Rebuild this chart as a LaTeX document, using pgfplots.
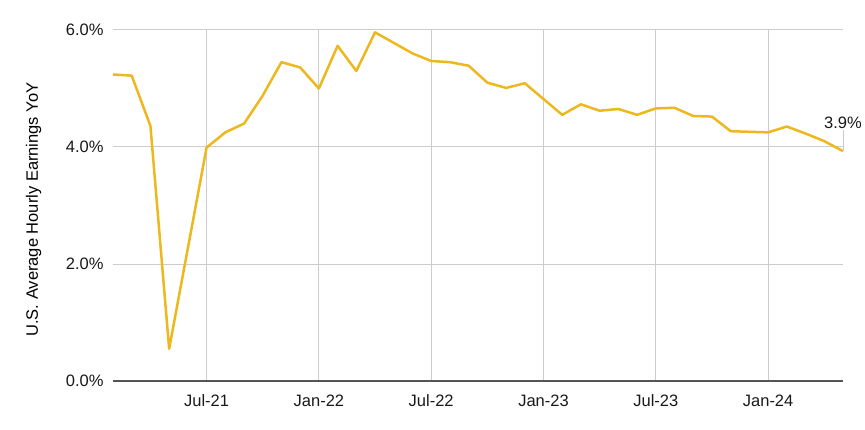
\documentclass[border=0pt]{standalone}
\usepackage{pgfplots}
\pgfplotsset{compat=1.18}
\usepackage{fontspec}
\setmainfont{Liberation Sans}
\definecolor{gold}{RGB}{236,184,30}
\definecolor{gridc}{RGB}{204,204,204}
\definecolor{axc}{RGB}{85,85,85}
\begin{document}
\begin{tikzpicture}
\useasboundingbox (-113bp,-49bp) rectangle (752bp,381bp);
\begin{axis}[
  at={(0,0)}, anchor=south west,
  scale only axis, width=730bp, height=351bp,
  xmin=1, xmax=40, ymin=0, ymax=6,
  axis x line*=bottom, axis y line*=left,
  x axis line style={axc, line width=1.6bp, -},
  y axis line style={draw=none},
  xtick={6,12,18,24,30,36},
  xticklabels={Jul-21,Jan-22,Jul-22,Jan-23,Jul-23,Jan-24},
  ytick={0,2,4,6},
  yticklabels={0.0\%,2.0\%,4.0\%,6.0\%},
  grid=major, major grid style={gridc, line width=1bp},
  major tick length=0pt,
  tick label style={font=\fontsize{16.5bp}{19bp}\selectfont, text=black!90},
  xticklabel style={yshift=-10bp},
  yticklabel style={xshift=-6bp},
  ylabel={U.S. Average Hourly Earnings YoY},
  ylabel style={font=\fontsize{16.5bp}{19bp}\selectfont, at={([xshift=-75bp,yshift=-4bp]axis description cs:0,0.5)}, anchor=base, rotate=0},
  clip=false,
]
\addplot[gold, line width=2.5bp, line join=round] coordinates {
(1,5.24) (2,5.22) (3,4.36) (4,0.55) (6,3.99) (7,4.25) (8,4.40) (9,4.88)
(10,5.45) (11,5.36) (12,5.00) (13,5.73) (14,5.30) (15,5.96) (16,5.78) (17,5.60)
(18,5.47) (19,5.45) (20,5.39) (21,5.10) (22,5.01) (23,5.09) (24,4.82) (25,4.55)
(26,4.73) (27,4.62) (28,4.65) (29,4.55) (30,4.66) (31,4.67) (32,4.53) (33,4.52)
(34,4.27) (35,4.26) (36,4.25) (37,4.35) (38,4.23) (39,4.10) (40,3.93)
};
\draw[gridc, line width=0.8bp] (axis cs:40,3.93) -- ++(0pt,21bp) node[above, inner sep=1.5bp, font=\fontsize{16.5bp}{19bp}\selectfont, text=black!90] {3.9\%};
\end{axis}
\end{tikzpicture}
\end{document}
